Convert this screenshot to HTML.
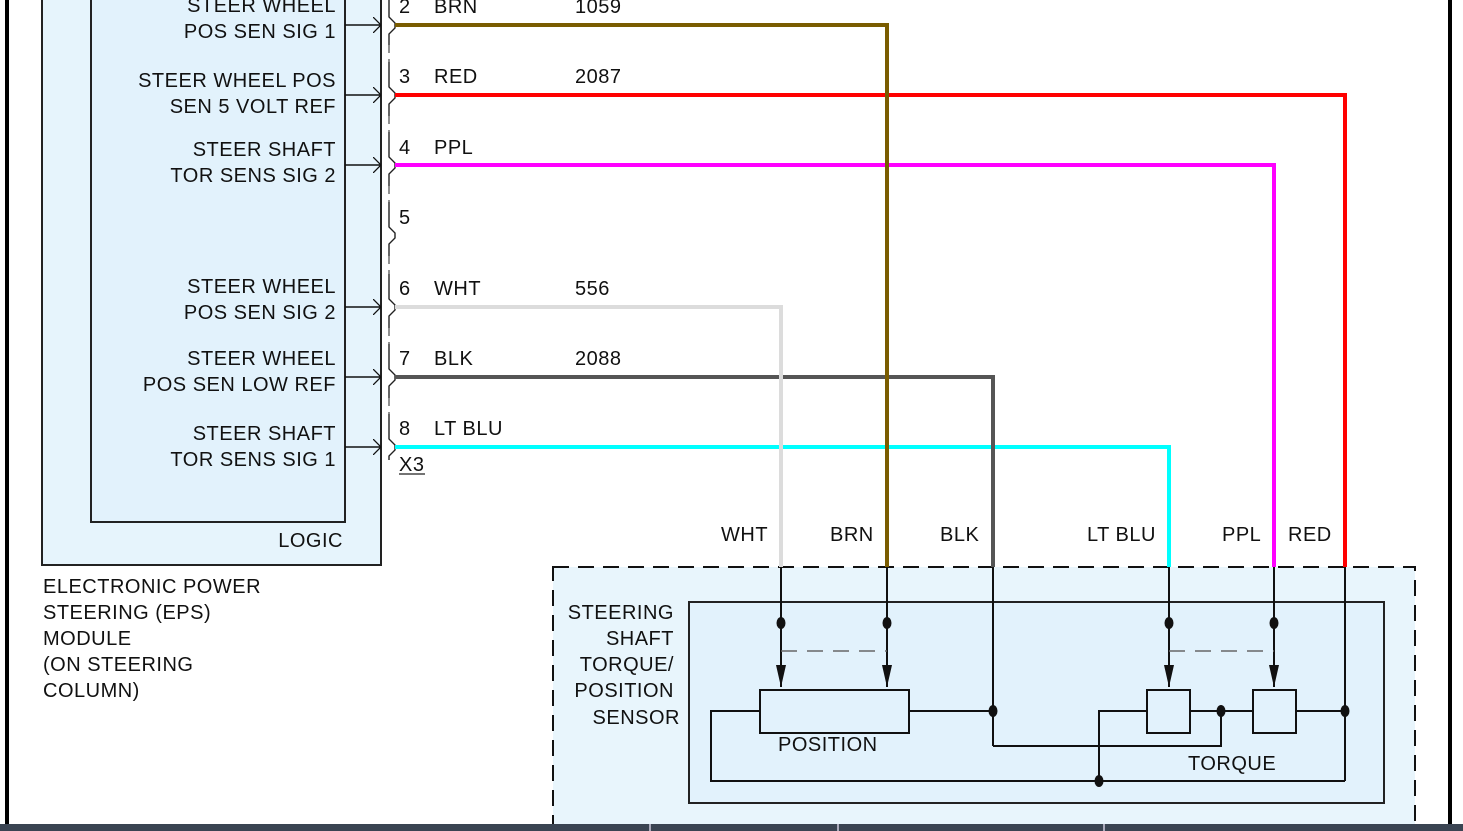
<!DOCTYPE html>
<html><head><meta charset="utf-8"><style>
html,body{margin:0;padding:0;background:#fff;width:1463px;height:831px;overflow:hidden}
svg text{font-family:"Liberation Sans",Arial,sans-serif;font-size:20px;fill:#111;letter-spacing:0.5px}
</style></head><body>
<svg width="1463" height="831" viewBox="0 0 1463 831" xmlns="http://www.w3.org/2000/svg">
<defs>
<marker id="ah" viewBox="0 0 10 20" refX="10" refY="10" markerWidth="8" markerHeight="16" markerUnits="userSpaceOnUse" orient="auto"><path d="M0,0 L10,10 L0,20" fill="none" stroke="#111" stroke-width="1.6"/></marker>
<marker id="fa" viewBox="0 0 22 10" refX="22" refY="5" markerWidth="22" markerHeight="10" markerUnits="userSpaceOnUse" orient="auto"><path d="M0,0 L22,5 L0,10 Z" fill="#111"/></marker>
</defs>
<rect x="5" y="0" width="4" height="831" fill="#000"/>
<rect x="1448" y="0" width="4" height="831" fill="#000"/>
<rect x="42" y="-5" width="339" height="570" fill="#e6f4fc" stroke="#222" stroke-width="2"/>
<rect x="91" y="-5" width="254" height="527" fill="#e2f2fc" stroke="#222" stroke-width="2"/>
<text x="343" y="547" text-anchor="end">LOGIC</text>
<g text-anchor="end">
<text x="336" y="12">STEER WHEEL</text><text x="336" y="38">POS SEN SIG 1</text>
<text x="336" y="87">STEER WHEEL POS</text><text x="336" y="113">SEN 5 VOLT REF</text>
<text x="336" y="156">STEER SHAFT</text><text x="336" y="182">TOR SENS SIG 2</text>
<text x="336" y="293">STEER WHEEL</text><text x="336" y="319">POS SEN SIG 2</text>
<text x="336" y="365">STEER WHEEL</text><text x="336" y="391">POS SEN LOW REF</text>
<text x="336" y="440">STEER SHAFT</text><text x="336" y="466">TOR SENS SIG 1</text>
</g>
<g stroke="#111" stroke-width="1.6" fill="none">
<line x1="345" y1="25" x2="381" y2="25" marker-end="url(#ah)"/>
<line x1="345" y1="95" x2="381" y2="95" marker-end="url(#ah)"/>
<line x1="345" y1="165" x2="381" y2="165" marker-end="url(#ah)"/>
<line x1="345" y1="307" x2="381" y2="307" marker-end="url(#ah)"/>
<line x1="345" y1="377" x2="381" y2="377" marker-end="url(#ah)"/>
<line x1="345" y1="447" x2="381" y2="447" marker-end="url(#ah)"/>
</g>
<g fill="none" stroke="#222" stroke-width="1.4">
<path d="M389,0 L389,17 L395,23 L395,28 L389,34 L389,45"/>
<path d="M389,62 L389,87 L395,93 L395,98 L389,104 L389,116"/>
<path d="M389,132 L389,157 L395,163 L395,168 L389,174 L389,186"/>
<path d="M389,202 L389,227 L395,233 L395,238 L389,244 L389,256"/>
<path d="M389,274 L389,299 L395,305 L395,310 L389,316 L389,328"/>
<path d="M389,344 L389,369 L395,375 L395,380 L389,386 L389,398"/>
<path d="M389,414 L389,439 L395,445 L395,450 L389,456 L389,460"/>
</g>
<g stroke="#222" stroke-width="1" stroke-dasharray="8,6">
<line x1="389" y1="45" x2="389" y2="62"/><line x1="389" y1="116" x2="389" y2="132"/>
<line x1="389" y1="186" x2="389" y2="202"/><line x1="389" y1="256" x2="389" y2="274"/>
<line x1="389" y1="328" x2="389" y2="344"/><line x1="389" y1="398" x2="389" y2="414"/>
</g>
<text x="399" y="13">2</text><text x="434" y="13">BRN</text><text x="575" y="13">1059</text>
<text x="399" y="83">3</text><text x="434" y="83">RED</text><text x="575" y="83">2087</text>
<text x="399" y="154">4</text><text x="434" y="154">PPL</text>
<text x="399" y="224">5</text>
<text x="399" y="295">6</text><text x="434" y="295">WHT</text><text x="575" y="295">556</text>
<text x="399" y="365">7</text><text x="434" y="365">BLK</text><text x="575" y="365">2088</text>
<text x="399" y="435">8</text><text x="434" y="435">LT BLU</text>
<text x="399" y="471">X3</text><line x1="399" y1="474" x2="425" y2="474" stroke="#222" stroke-width="1.2"/>
<g>
<text x="43" y="593">ELECTRONIC POWER</text><text x="43" y="619">STEERING (EPS)</text>
<text x="43" y="645">MODULE</text><text x="43" y="671">(ON STEERING</text><text x="43" y="697">COLUMN)</text>
</g>
<rect x="553" y="567" width="862" height="270" fill="#e8f5fc" stroke="#111" stroke-width="2" stroke-dasharray="16,9"/>
<rect x="689" y="602" width="695" height="201" fill="#e2f2fc" stroke="#222" stroke-width="2"/>
<g text-anchor="end">
<text x="674" y="619">STEERING</text><text x="674" y="645">SHAFT</text><text x="674" y="671">TORQUE/</text>
<text x="674" y="697">POSITION</text><text x="680" y="724">SENSOR</text>
</g>
<text x="721" y="541">WHT</text><text x="830" y="541">BRN</text><text x="940" y="541">BLK</text>
<text x="1087" y="541">LT BLU</text><text x="1222" y="541">PPL</text><text x="1288" y="541">RED</text>
<g fill="none" stroke-width="4">
<path d="M395,447 L1169,447 L1169,567" stroke="#00ffff"/>
<path d="M395,377 L993,377 L993,567" stroke="#555"/>
<path d="M395,307 L781,307 L781,567" stroke="#dcdcdc"/>
<path d="M395,165 L1274,165 L1274,567" stroke="#ff00ff"/>
<path d="M395,95 L1345,95 L1345,567" stroke="#ff0000"/>
<path d="M395,25 L887,25 L887,567" stroke="#7a5c00"/>
</g>
<g fill="none" stroke="#111" stroke-width="2">
<line x1="781" y1="567" x2="781" y2="687" marker-end="url(#fa)"/>
<line x1="887" y1="567" x2="887" y2="687" marker-end="url(#fa)"/>
<line x1="1169" y1="567" x2="1169" y2="687" marker-end="url(#fa)"/>
<line x1="1274" y1="567" x2="1274" y2="687" marker-end="url(#fa)"/>
<line x1="993" y1="567" x2="993" y2="746"/>
<path d="M993,746 L1221,746 L1221,711"/>
<line x1="1345" y1="567" x2="1345" y2="781"/>
<path d="M760,711 L711,711 L711,781 L1345,781"/>
<line x1="909" y1="711" x2="993" y2="711"/>
<path d="M1147,711 L1099,711 L1099,781"/>
<line x1="1190" y1="711" x2="1253" y2="711"/>
<line x1="1296" y1="711" x2="1345" y2="711"/>
<rect x="760" y="690" width="149" height="43" fill="#e2f2fc"/>
<rect x="1147" y="690" width="43" height="43" fill="#e2f2fc"/>
<rect x="1253" y="690" width="43" height="43" fill="#e2f2fc"/>
</g>
<g stroke="#666" stroke-width="1.4" stroke-dasharray="16,10">
<line x1="781" y1="651" x2="887" y2="651"/><line x1="1169" y1="651" x2="1274" y2="651"/>
</g>
<g fill="#111">
<ellipse cx="781" cy="623" rx="4.5" ry="6"/><ellipse cx="887" cy="623" rx="4.5" ry="6"/>
<ellipse cx="1169" cy="623" rx="4.5" ry="6"/><ellipse cx="1274" cy="623" rx="4.5" ry="6"/>
<ellipse cx="993" cy="711" rx="4.5" ry="6"/><ellipse cx="1221" cy="711" rx="4.5" ry="6"/>
<ellipse cx="1345" cy="711" rx="4.5" ry="6"/><ellipse cx="1099" cy="781" rx="4.5" ry="6"/>
</g>
<text x="778" y="751">POSITION</text><text x="1188" y="770">TORQUE</text>
<rect x="0" y="824" width="1463" height="7" fill="#3a4452"/>
<g fill="#aab"><rect x="649" y="824" width="2" height="7"/><rect x="837" y="824" width="2" height="7"/><rect x="1103" y="824" width="2" height="7"/></g>
</svg>
</body></html>
